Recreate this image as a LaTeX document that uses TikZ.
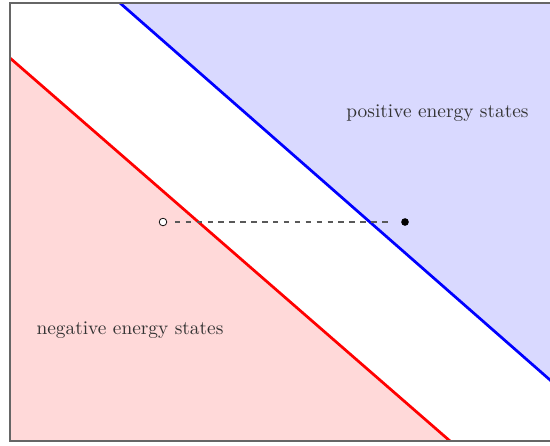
\documentclass[tikz,border=0pt]{standalone}
\begin{document}
\begin{tikzpicture}[x=0.55pt,y=-0.55pt,
  bound/.style={line width=1.5pt},
  lbl/.style={text=black!80, font=\fontsize{10.65}{13}\selectfont},
  frame/.style={draw=black!60, line width=0.6pt}]
\useasboundingbox (0,0) rectangle (550,445);
\coordinate (TL) at (10,3);
\coordinate (BL) at (10,441);
\coordinate (TR) at (552,3);
\coordinate (BR) at (552,441);
\coordinate (r1) at (10,58);
\coordinate (r2) at (450,441);
\coordinate (b1) at (120,3);
\coordinate (b2) at (552,381.7);
% regions
\fill[red!15] (r1) -- (r2) -- (BL) -- cycle;
\fill[blue!15] (b1) -- (TR) -- (b2) -- cycle;
% boundaries
\draw[bound, red] (r1) -- (r2);
\draw[bound, blue] (b1) -- (b2);
\draw[frame] (TR) -- (TL) -- (BL) -- (BR);
% points
\node[circle, draw, fill=white, inner sep=0pt, minimum size=4.2pt] (hole) at (163,222) {};
\node[circle, fill=black, inner sep=0pt, minimum size=4.2pt] (elec) at (405,222) {};
\draw[dashed, black!65, line width=0.6pt, shorten <=4.2pt, shorten >=5.5pt] (hole) -- (elec);
% labels
\node[lbl] (pos) at (437.5,113) {positive energy states};
\node[lbl] (neg) at (130,330) {negative energy states};
\end{tikzpicture}
\end{document}
